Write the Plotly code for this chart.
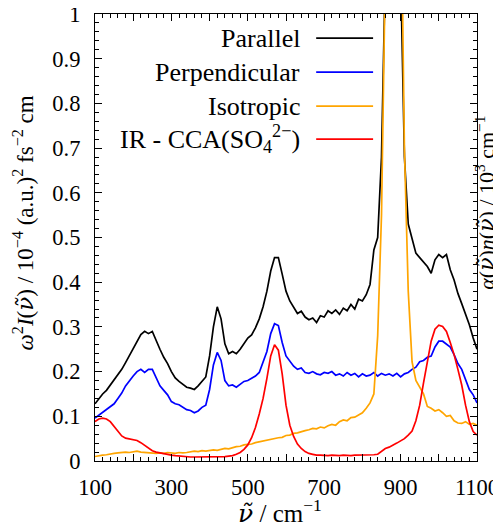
import plotly.graph_objects as go

wavenumber = list(range(100, 1101, 10))

parallel = [
    0.128, 0.140, 0.150, 0.158, 0.170, 0.183, 0.195, 0.205, 0.220, 0.235,
    0.252, 0.268, 0.283, 0.290, 0.285, 0.290, 0.268, 0.250, 0.232, 0.218,
    0.200, 0.186, 0.178, 0.172, 0.165, 0.163, 0.160, 0.168, 0.178, 0.188,
    0.235, 0.300, 0.345, 0.318, 0.262, 0.240, 0.245, 0.240, 0.250, 0.262,
    0.275, 0.282, 0.298, 0.318, 0.345, 0.380, 0.425, 0.455, 0.455, 0.418,
    0.380, 0.358, 0.345, 0.330, 0.335, 0.322, 0.316, 0.320, 0.310, 0.325,
    0.322, 0.336, 0.330, 0.338, 0.328, 0.342, 0.336, 0.350, 0.340, 0.362,
    0.358, 0.372, 0.395, 0.472, 0.500, 0.680, 1.100, 1.600, 2.000, 1.800,
    1.100, 0.680, 0.530, 0.500, 0.465, 0.455, 0.445, 0.435, 0.420, 0.450,
    0.462, 0.455, 0.462, 0.428, 0.405, 0.375, 0.352, 0.330, 0.305, 0.275,
    0.250,
]

perpendicular = [
    0.096, 0.102, 0.108, 0.115, 0.120, 0.128, 0.140, 0.152, 0.168, 0.180,
    0.190, 0.200, 0.205, 0.198, 0.205, 0.205, 0.185, 0.168, 0.158, 0.148,
    0.133, 0.128, 0.126, 0.120, 0.115, 0.113, 0.108, 0.112, 0.120, 0.125,
    0.160, 0.215, 0.243, 0.225, 0.180, 0.168, 0.170, 0.165, 0.172, 0.178,
    0.180, 0.185, 0.190, 0.198, 0.220, 0.245, 0.285, 0.307, 0.303, 0.265,
    0.235, 0.222, 0.212, 0.205, 0.208, 0.198, 0.196, 0.200, 0.195, 0.193,
    0.198, 0.196, 0.200, 0.192, 0.195, 0.190, 0.198, 0.192, 0.196, 0.188,
    0.195, 0.190, 0.192, 0.198, 0.190, 0.196, 0.192, 0.195, 0.190, 0.196,
    0.188, 0.195, 0.198, 0.205, 0.210, 0.222, 0.225, 0.232, 0.235, 0.255,
    0.268, 0.268, 0.262, 0.255, 0.238, 0.218, 0.205, 0.182, 0.160, 0.148,
    0.130,
]

isotropic = [
    0.010, 0.012, 0.013, 0.014, 0.016, 0.017, 0.018, 0.019, 0.020, 0.019,
    0.021, 0.022, 0.020, 0.019, 0.018, 0.018, 0.017, 0.018, 0.017, 0.019,
    0.018, 0.017, 0.019, 0.018, 0.019, 0.020, 0.022, 0.021, 0.023, 0.022,
    0.024, 0.025, 0.024, 0.026, 0.028, 0.027, 0.030, 0.032, 0.033, 0.036,
    0.037, 0.038, 0.041, 0.043, 0.045, 0.046, 0.048, 0.050, 0.052, 0.053,
    0.057, 0.058, 0.062, 0.063, 0.066, 0.068, 0.070, 0.073, 0.072, 0.076,
    0.074, 0.079, 0.082, 0.080, 0.088, 0.092, 0.090, 0.097, 0.098, 0.104,
    0.108, 0.118, 0.130, 0.150, 0.280, 0.550, 0.850, 1.300, 2.200, 2.000,
    1.300, 0.700, 0.380, 0.222, 0.180, 0.165, 0.150, 0.122, 0.118, 0.112,
    0.115, 0.108, 0.100, 0.102, 0.090, 0.085, 0.084, 0.088, 0.082, 0.084,
    0.080,
]

ir_cca = [
    0.088, 0.094, 0.096, 0.094, 0.088, 0.078, 0.066, 0.056, 0.051, 0.049,
    0.048, 0.046, 0.041, 0.035, 0.028, 0.023, 0.020, 0.018, 0.016, 0.014,
    0.013, 0.012, 0.011, 0.010, 0.009, 0.009, 0.009, 0.009, 0.009, 0.009,
    0.009, 0.009, 0.009, 0.009, 0.010, 0.011, 0.012, 0.015, 0.019, 0.026,
    0.036, 0.052, 0.075, 0.105, 0.140, 0.185, 0.235, 0.260, 0.248, 0.195,
    0.125, 0.080, 0.055, 0.038, 0.028, 0.021, 0.017, 0.015, 0.013, 0.013,
    0.012, 0.012, 0.013, 0.012, 0.012, 0.013, 0.012, 0.012, 0.013, 0.013,
    0.013, 0.013, 0.013, 0.014, 0.015, 0.021, 0.028, 0.031, 0.035, 0.040,
    0.045, 0.050, 0.058, 0.067, 0.090, 0.125, 0.175, 0.225, 0.268, 0.295,
    0.304, 0.301, 0.290, 0.265, 0.238, 0.205, 0.170, 0.125, 0.088, 0.066,
    0.058,
]

series_names = ["Parallel", "Perpendicular", "Isotropic",
                "IR - CCA(SO<sub>4</sub><sup>2−</sup>)"]
series_colors = ["#000000", "#0000ff", "#ffa500", "#ff0000"]
series_values = [parallel, perpendicular, isotropic, ir_cca]

x_tick_vals = list(range(100, 1101, 100))
x_tick_text = ["100", "", "300", "", "500", "", "700", "", "900", "", "1100"]
y_tick_vals = [0, 0.1, 0.2, 0.3, 0.4, 0.5, 0.6, 0.7, 0.8, 0.9, 1.0]
y_tick_text = ["0", "0.1", "0.2", "0.3", "0.4", "0.5", "0.6", "0.7", "0.8", "0.9", "1"]

FONT = "Liberation Serif"
NU = '<span style="font-family:DejaVu Serif;font-style:italic">ν̃</span>'

fig = go.Figure()
for name, col, vals in zip(series_names, series_colors, series_values):
    fig.add_trace(go.Scatter(x=wavenumber, y=vals, mode="lines", name=name,
                             line=dict(color=col, width=1.7), showlegend=False))

# custom legend (text right-aligned, sample line to its right)
legend_rows = [0.946, 0.870, 0.794, 0.720]
for name, col, yy in zip(series_names, series_colors, legend_rows):
    fig.add_annotation(x=0.542, y=yy, xref="paper", yref="paper", text=name,
                       showarrow=False, xanchor="right", yanchor="middle",
                       font=dict(family=FONT, size=26, color="black"))
    fig.add_shape(type="line", xref="paper", yref="paper", x0=0.579, x1=0.728,
                  y0=yy, y1=yy, line=dict(color=col, width=1.7))

axis_common = dict(showline=True, linecolor="black", linewidth=1.2, mirror="ticks",
                   ticks="inside", tickcolor="black", ticklen=7, tickwidth=1,
                   showgrid=False, zeroline=False, automargin=False,
                   ticklabeloverflow="allow",
                   tickfont=dict(family=FONT, size=22.5, color="black"))

fig.update_xaxes(range=[100, 1100], tickmode="array", tickvals=x_tick_vals,
                 ticktext=x_tick_text, ticklabelstandoff=6,
                 minor=dict(dtick=20, ticklen=4, ticks="inside", tickcolor="black"),
                 **axis_common)
fig.update_yaxes(range=[0, 1], tickmode="array", tickvals=y_tick_vals,
                 ticktext=y_tick_text, ticklabelstandoff=9,
                 minor=dict(dtick=0.02, ticklen=4, ticks="inside", tickcolor="black"),
                 **axis_common)

fig.add_annotation(x=0.484, y=-0.114, xref="paper", yref="paper",
                   text=NU + " / cm<sup>−1</sup>", showarrow=False,
                   xanchor="center", yanchor="middle",
                   font=dict(family=FONT, size=25, color="black"))
fig.add_annotation(x=-0.188, y=0.532, xref="paper", yref="paper", textangle=-90,
                   text="<i>ω</i><sup>2</sup><i>I</i>(" + NU + ") / 10<sup>−4</sup> (a.u.)<sup>2</sup> fs<sup>−2</sup> cm",
                   showarrow=False, xanchor="center", yanchor="middle",
                   font=dict(family=FONT, size=23, color="black"))
fig.add_annotation(x=1.020, y=0.577, xref="paper", yref="paper", textangle=-90,
                   text="<i>α</i>(" + NU + ")<i>n</i>(" + NU + ") / 10<sup>3</sup> cm<sup>−1</sup>",
                   showarrow=False, xanchor="center", yanchor="middle",
                   font=dict(family=FONT, size=22, color="black"))

# page body has an 8px margin, so the figure is sized to fit the visible window
fig.update_layout(template="none", width=493, height=521,
                  plot_bgcolor="white", paper_bgcolor="white",
                  margin=dict(l=87, r=24, t=6, b=68), showlegend=False,
                  font=dict(family=FONT, color="black"))

fig.write_html("out.html")
